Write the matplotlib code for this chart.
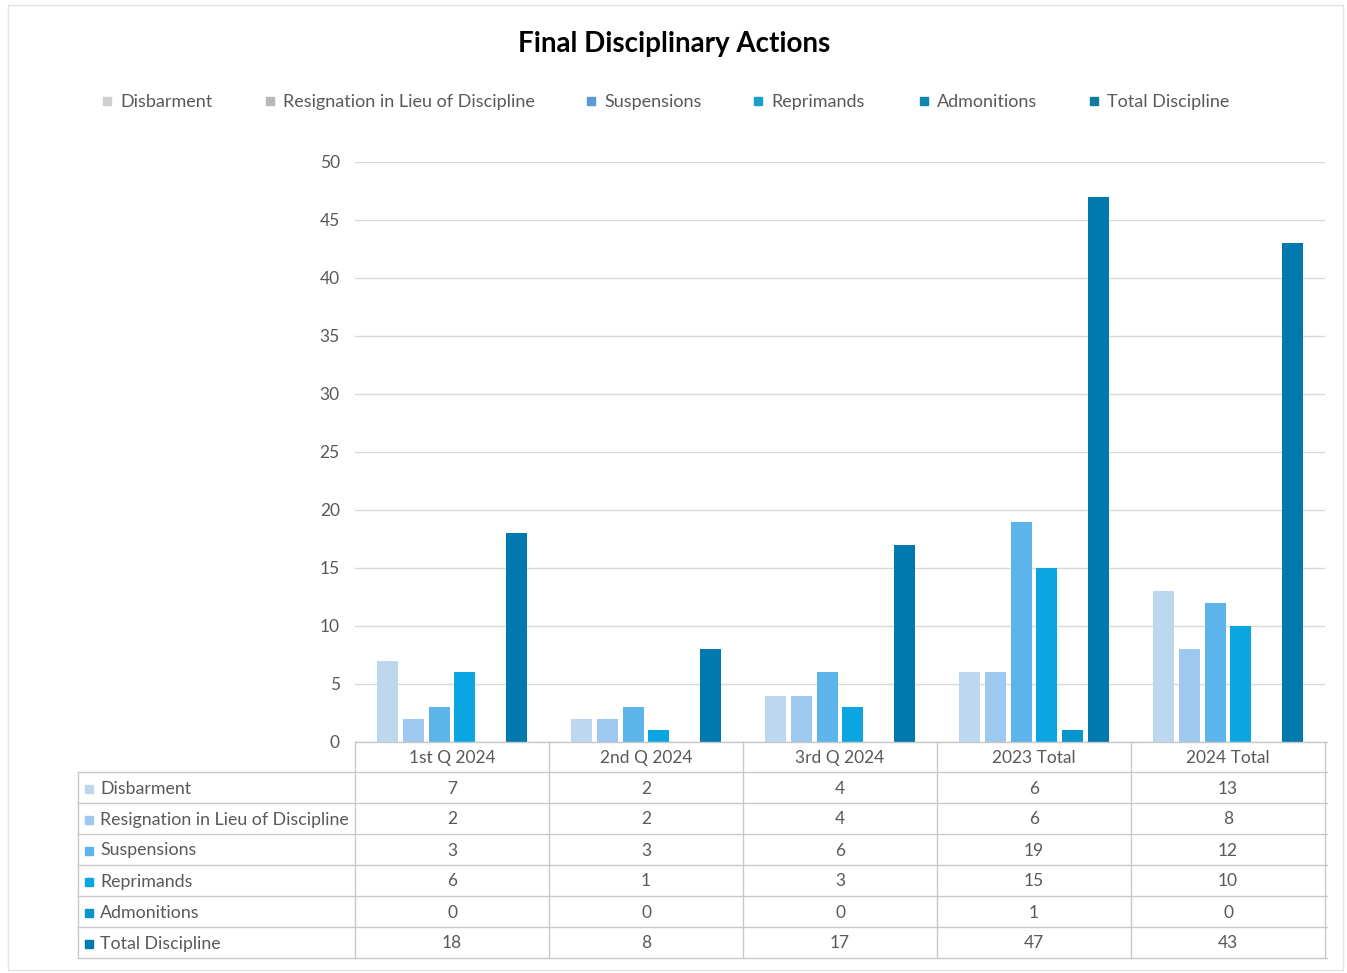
import matplotlib
matplotlib.use("Agg")
import matplotlib.pyplot as plt
import matplotlib.transforms as mtransforms
from matplotlib.patches import Rectangle
from matplotlib.lines import Line2D

plt.rcParams['font.family'] = ['Lato', 'DejaVu Sans']

categories = ["1st Q 2024", "2nd Q 2024", "3rd Q 2024", "2023 Total", "2024 Total"]
series = ["Disbarment", "Resignation in Lieu of Discipline", "Suspensions",
          "Reprimands", "Admonitions", "Total Discipline"]
disbarment = [7, 2, 4, 6, 13]
resignation = [2, 2, 4, 6, 8]
suspensions = [3, 3, 6, 19, 12]
reprimands = [6, 1, 3, 15, 10]
admonitions = [0, 0, 0, 1, 0]
total = [18, 8, 17, 47, 43]
values = [disbarment, resignation, suspensions, reprimands, admonitions, total]

bar_colors = ["#BDD7EE", "#9DC8F0", "#5DB4EA", "#0AA6E2", "#0895CC", "#0079AE"]
legend_colors = ["#D0D0D0", "#B8B8B8", "#5B9BD5", "#1BA1C8", "#0E86B0", "#0F7A9E"]
text_color = "#595959"
grid_color = "#D9D9D9"
line_color = "#C8C8C8"

W, H = 1347, 973
fig = plt.figure(figsize=(W / 100, H / 100), dpi=100)

def fx(x):
    return x / W

def fy(y):
    return 1 - y / H

# outer chart border
fig.patches.append(Rectangle((fx(8), fy(970)), fx(1343) - fx(8), fy(5) - fy(970),
                             transform=fig.transFigure, fill=False,
                             edgecolor="#E4E4E4", linewidth=1))

ax = fig.add_axes([fx(355), fy(742), fx(1325) - fx(355), fy(162) - fy(742)])
n = len(series)
step = 0.133
width = 0.108
for i, vals in enumerate(values):
    offs = (i - (n - 1) / 2) * step
    ax.bar([k + offs for k in range(len(categories))], vals, width=width,
           color=bar_colors[i], zorder=3)

ax.set_xlim(-0.5, len(categories) - 0.5)
ax.set_ylim(0, 50)
ax.set_yticks(range(0, 51, 5))
ax.set_xticks([])
ax.yaxis.grid(True, color=grid_color, linewidth=1)
ax.set_axisbelow(True)
for s in ax.spines.values():
    s.set_visible(False)
ax.tick_params(axis="y", length=0, pad=11, labelsize=12.5, labelcolor=text_color)

# title
fig.text(fx(674), fy(44), "Final Disciplinary Actions", ha="center", va="center",
         fontsize=20, fontweight="bold", color="#000000")

# top legend
leg_x = [107, 270, 591, 758, 924, 1094]
for i, name in enumerate(series):
    fig.patches.append(Rectangle((fx(leg_x[i] - 4), fy(105)), fx(8), fy(97) - fy(105),
                                 transform=fig.transFigure, color=legend_colors[i]))
    fig.text(fx(leg_x[i] + 13), fy(102), name, ha="left", va="center",
             fontsize=13, color=text_color)

# data table
bt = mtransforms.blended_transform_factory(ax.transData, fig.transFigure)
row_tops = [742, 772, 803, 834, 865, 896, 927, 958]
left_px = 78

for y in row_tops:
    x0 = left_px if y >= 772 else 355
    fig.add_artist(Line2D([fx(x0), fx(1327)], [fy(y), fy(y)],
                          transform=fig.transFigure, color=line_color, linewidth=1))
fig.add_artist(Line2D([fx(left_px), fx(left_px)], [fy(772), fy(958)],
                      transform=fig.transFigure, color=line_color, linewidth=1))
for k in range(len(categories) + 1):
    fig.add_artist(Line2D([k - 0.5, k - 0.5], [fy(742), fy(958)],
                          transform=bt, color=line_color, linewidth=1))

for k, cat in enumerate(categories):
    fig.text(k, fy(758), cat, transform=bt, ha="center", va="center",
             fontsize=12.5, color=text_color)

for i, name in enumerate(series):
    yc = (row_tops[i + 1] + row_tops[i + 2]) / 2 + 1
    fig.patches.append(Rectangle((fx(85), fy(yc + 4)), fx(8), fy(yc - 4) - fy(yc + 4),
                                 transform=fig.transFigure, color=bar_colors[i]))
    fig.text(fx(100), fy(yc), name, ha="left", va="center",
             fontsize=12.8, color=text_color)
    for k, v in enumerate(values[i]):
        fig.text(k, fy(yc), str(v), transform=bt, ha="center", va="center",
                 fontsize=12.5, color=text_color)

fig.savefig("out.png", dpi=100, facecolor="white")
